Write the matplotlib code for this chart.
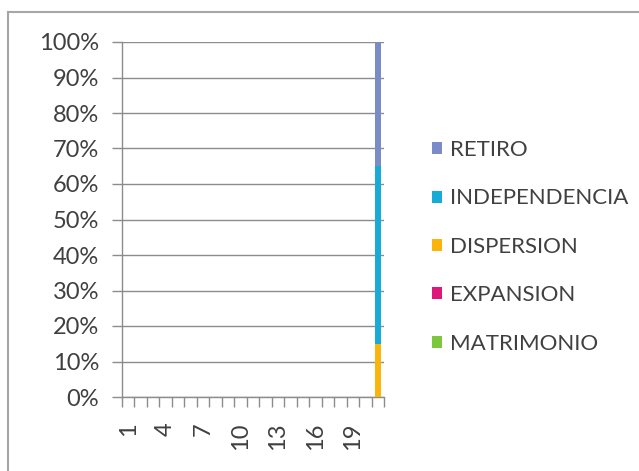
import matplotlib
matplotlib.use('Agg')
from matplotlib import pyplot as plt
from matplotlib.lines import Line2D
import numpy as np

plt.rcParams['font.family'] = ['Lato', 'DejaVu Sans']

categories = list(range(1, 22))
matrimonio = [0] * 20 + [0]
expansion = [0] * 20 + [0]
dispersion = [0] * 20 + [15]
independencia = [0] * 20 + [50]
retiro = [0] * 20 + [35]

series = [('MATRIMONIO', matrimonio, '#7cc83c'),
          ('EXPANSION', expansion, '#e0177b'),
          ('DISPERSION', dispersion, '#fbb40c'),
          ('INDEPENDENCIA', independencia, '#17abd5'),
          ('RETIRO', retiro, '#7a8bc7')]

W, H = 639, 471
fig = plt.figure(figsize=(W / 100, H / 100), dpi=100)

# outer chart frame (only top and left visible in the crop)
fig.add_artist(Line2D([8 / W, 8 / W], [0, 1 - 12 / H], transform=fig.transFigure, color='#a6a6a6', lw=1.5))
fig.add_artist(Line2D([8 / W, 1], [1 - 12 / H, 1 - 12 / H], transform=fig.transFigure, color='#a6a6a6', lw=1.5))

ax = fig.add_axes([122 / W, (H - 397) / H, (384 - 122) / W, (397 - 42) / H])

x = np.array(categories)
bottom = np.zeros(len(categories))
handles = []
for name, vals, col in series:
    b = ax.bar(x, vals, width=0.45, bottom=bottom, color=col, label=name, zorder=3)
    bottom += np.array(vals)
    handles.append(b)

ax.set_xlim(0.5, 21.5)
ax.set_ylim(0, 100)
ax.set_yticks(np.arange(0, 101, 10))
ax.set_yticklabels(['%d%%' % v for v in range(0, 101, 10)])
ax.yaxis.grid(True, color='#8c8c8c', lw=1)
ax.set_axisbelow(True)

ax.set_xticks(categories[::3])
ax.set_xticklabels([str(c) for c in categories[::3]], rotation=90)
ax.set_xticks(np.arange(0.5, 22, 1), minor=True)
ax.tick_params(axis='x', which='major', length=0, pad=18, labelsize=17, labelcolor='#404040')
ax.tick_params(axis='x', which='minor', length=7, color='#8c8c8c', width=1, direction='out')
ax.tick_params(axis='y', length=7, color='#8c8c8c', width=1, pad=9.5, labelsize=17, labelcolor='#404040')

for s in ['top', 'right']:
    ax.spines[s].set_visible(False)
for s in ['left', 'bottom']:
    ax.spines[s].set_color('#8c8c8c')
    ax.spines[s].set_linewidth(1)

leg = fig.legend(handles[::-1], [s[0] for s in series[::-1]], loc='upper left',
                 bbox_to_anchor=(412 / W, 1 - 120 / H), frameon=False,
                 handlelength=0.45, handleheight=0.45, handletextpad=0.36,
                 labelspacing=1.28, fontsize=16)
for t in leg.get_texts():
    t.set_color('#404040')

fig.savefig('out.png', dpi=100)
